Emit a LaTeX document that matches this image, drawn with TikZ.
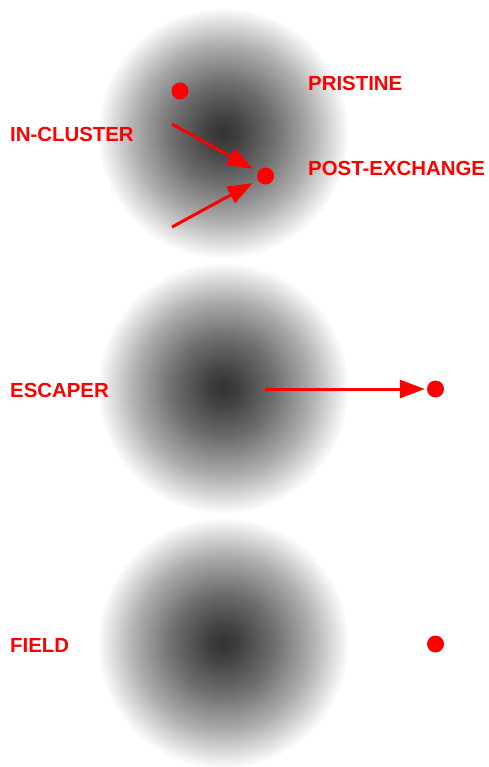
\documentclass[tikz,border=0pt]{standalone}
\usepackage{fontspec}
\setmainfont{Liberation Sans}
\usetikzlibrary{arrows.meta}
\pgfdeclareradialshading{clustershade}{\pgfpoint{0bp}{0bp}}{color(0bp)=(black!80); color(3bp)=(black!75); color(10bp)=(black!57); color(17.5bp)=(black!32); color(22.5bp)=(black!11); color(25bp)=(white); color(50bp)=(white)}
\tikzset{
  lbl/.style={text=red, font=\bfseries\fontsize{20.4}{24}\selectfont, anchor=base west, inner sep=0pt},
  star/.style={circle, fill=red, draw=none, minimum size=17pt, inner sep=0pt},
  mover/.style={draw=red, line width=3pt, -{Triangle[length=25pt,width=18pt]}},
  cluster/.style={shading=clustershade, draw=none}
}
\begin{document}
\begin{tikzpicture}[x=1pt,y=-1pt]
\useasboundingbox (0,0) rectangle (488,767);
% clusters
\coordinate (c1) at (223,133);
\coordinate (c2) at (223,388);
\coordinate (c3) at (223,643);
\shade[cluster] (c1) circle (126pt);
\shade[cluster] (c2) circle (126pt);
\shade[cluster] (c3) circle (126pt);
% stars
\node[star] (pristine) at (180,91) {};
\node[star] (post) at (265.5,176) {};
\node[star] (esc) at (435.5,389) {};
\node[star] (field) at (435.5,644) {};
% arrow starts
\coordinate (s1) at (172,124);
\coordinate (s2) at (172,227);
\coordinate (s3) at (265,389);
\draw[mover, shorten >=6pt] (s1) -- (post);
\draw[mover, shorten >=6pt] (s2) -- (post);
\draw[mover, shorten >=2pt] (s3) -- (esc);
% labels
\node[lbl] (lpristine) at (308,91) {PRISTINE};
\node[lbl] (lin) at (10,142) {IN-CLUSTER};
\node[lbl] (lpost) at (308,176) {POST-EXCHANGE};
\node[lbl] (lesc) at (10,397) {ESCAPER};
\node[lbl] (lfield) at (10,652) {FIELD};
\end{tikzpicture}
\end{document}
